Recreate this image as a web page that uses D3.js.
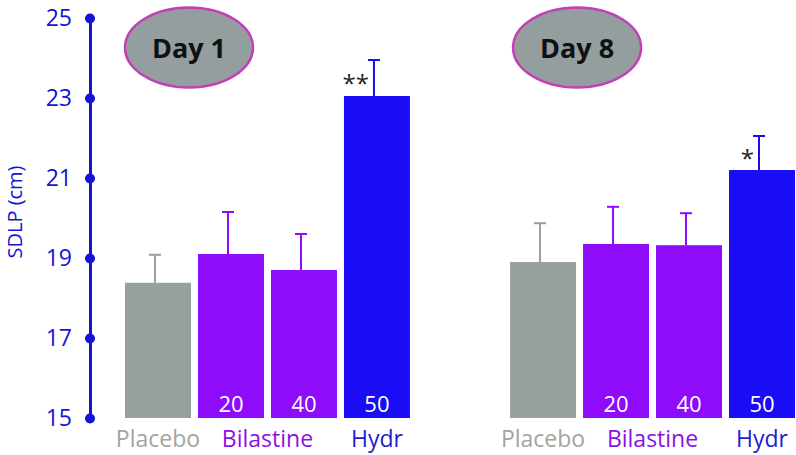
<!DOCTYPE html>
<html>
<head>
<meta charset="utf-8">
<script src="https://cdn.jsdelivr.net/npm/d3@7"></script>
<style>
  body { margin: 0; background: #fff; }
  svg { display: block; font-family: "Open Sans", "Noto Sans", sans-serif; }
</style>
</head>
<body>
<svg id="chart" width="796" height="455"></svg>
<script>
// Data.
const days      = ['Day 1', 'Day 8'];
const groups    = ['Placebo', 'Bilastine 20', 'Bilastine 40', 'Hydr 50'];
const doseLabel = ['', '20', '40', '50'];
const means     = { 'Day 1': [18.38, 19.1, 18.7, 23.05], 'Day 8': [18.9, 19.35, 19.32, 21.2] };
const errors    = { 'Day 1': [0.7, 1.05, 0.9, 0.9],      'Day 8': [0.97, 0.93, 0.8, 0.85] };
const stars     = { 'Day 1': ['', '', '', '**'],         'Day 8': ['', '', '', '*'] };
const yTicks    = [15, 17, 19, 21, 23, 25];

const barColor  = ['#95a09f', '#8e0cfa', '#8e0cfa', '#1a0cf5'];
const axisColor = '#1414d2';

const svg = d3.select('#chart');

// Scales.
const y = d3.scaleLinear().domain([15, 25]).range([418, 18]);
const xDay = d3.scaleBand().domain(days).range([125, 795]).paddingInner(0.26);
const xBar = d3.scaleBand().domain(groups).range([0, xDay.bandwidth()]).paddingInner(0.096);

// Y axis: line with dot markers.
const axis = svg.append('g').attr('transform', 'translate(90,0)');
axis.call(d3.axisLeft(y).tickValues(yTicks).tickSize(0).tickPadding(18).tickFormat(d3.format('d')));
axis.select('.domain').attr('stroke', axisColor).attr('stroke-width', 3);
axis.selectAll('.tick text')
  .attr('fill', axisColor)
  .style('font-size', '23px')
  .style('font-family', '"Open Sans", sans-serif');
axis.selectAll('.tick').append('circle')
  .attr('r', 5)
  .attr('fill', axisColor);

svg.append('text')
  .attr('transform', 'translate(22,212) rotate(-90)')
  .attr('text-anchor', 'middle')
  .attr('fill', axisColor)
  .style('font-size', '20px')
  .text('SDLP (cm)');

// One panel per day.
days.forEach(day => {
  const g = svg.append('g').attr('transform', `translate(${xDay(day)},0)`);
  const rows = groups.map((k, i) => ({ k, i, v: means[day][i], e: errors[day][i], s: stars[day][i] }));

  // Error bars (behind bars).
  const eb = g.selectAll('.err').data(rows).enter().append('g')
    .attr('stroke', d => barColor[d.i])
    .attr('stroke-width', 2);
  eb.append('line')
    .attr('x1', d => xBar(d.k) + xBar.bandwidth() / 2 - 3)
    .attr('x2', d => xBar(d.k) + xBar.bandwidth() / 2 - 3)
    .attr('y1', d => y(d.v))
    .attr('y2', d => y(d.v + d.e));
  eb.append('line')
    .attr('x1', d => xBar(d.k) + xBar.bandwidth() / 2 - 9)
    .attr('x2', d => xBar(d.k) + xBar.bandwidth() / 2 + 3)
    .attr('y1', d => y(d.v + d.e))
    .attr('y2', d => y(d.v + d.e));

  g.selectAll('rect').data(rows).enter().append('rect')
    .attr('x', d => xBar(d.k))
    .attr('y', d => y(d.v))
    .attr('width', xBar.bandwidth())
    .attr('height', d => y(15) - y(d.v))
    .attr('fill', d => barColor[d.i]);

  // Dose numbers inside bars.
  g.selectAll('.dose').data(rows).enter().append('text')
    .attr('x', d => xBar(d.k) + xBar.bandwidth() / 2)
    .attr('y', 412)
    .attr('text-anchor', 'middle')
    .attr('fill', '#fff')
    .style('font-size', '22px')
    .text(d => doseLabel[d.i]);

  // Significance stars.
  g.selectAll('.star').data(rows.filter(d => d.s)).enter().append('text')
    .attr('x', d => xBar(d.k) + xBar.bandwidth() / 2 - 8)
    .attr('y', d => y(d.v + d.e / 2) + 14)
    .attr('text-anchor', 'end')
    .attr('fill', '#222')
    .style('font-size', '24px')
    .text(d => d.s);

  // Category labels below.
  const mid = k => xBar(k) + xBar.bandwidth() / 2;
  const labels = [
    { t: 'Placebo',   x: mid('Placebo'), c: '#a3a3a3' },
    { t: 'Bilastine', x: (mid('Bilastine 20') + mid('Bilastine 40')) / 2, c: '#8a10e6' },
    { t: 'Hydr',      x: mid('Hydr 50'), c: '#2020d0' }
  ];
  g.selectAll('.cat').data(labels).enter().append('text')
    .attr('x', d => d.x)
    .attr('y', 447)
    .attr('text-anchor', 'middle')
    .attr('fill', d => d.c)
    .style('font-size', '23px')
    .text(d => d.t);

  // Day badge.
  const cx = xBar('Placebo') + 64 + (day === 'Day 8' ? 3 : 0);
  g.append('ellipse')
    .attr('cx', cx).attr('cy', 47.5)
    .attr('rx', 64).attr('ry', 40)
    .attr('fill', '#949e9e')
    .attr('stroke', '#c23fb4')
    .attr('stroke-width', 2.5);
  g.append('text')
    .attr('x', cx).attr('y', 58)
    .attr('text-anchor', 'middle')
    .attr('fill', '#111')
    .style('font-size', '27px')
    .style('font-weight', 'bold')
    .text(day);
});
</script>
</body>
</html>
